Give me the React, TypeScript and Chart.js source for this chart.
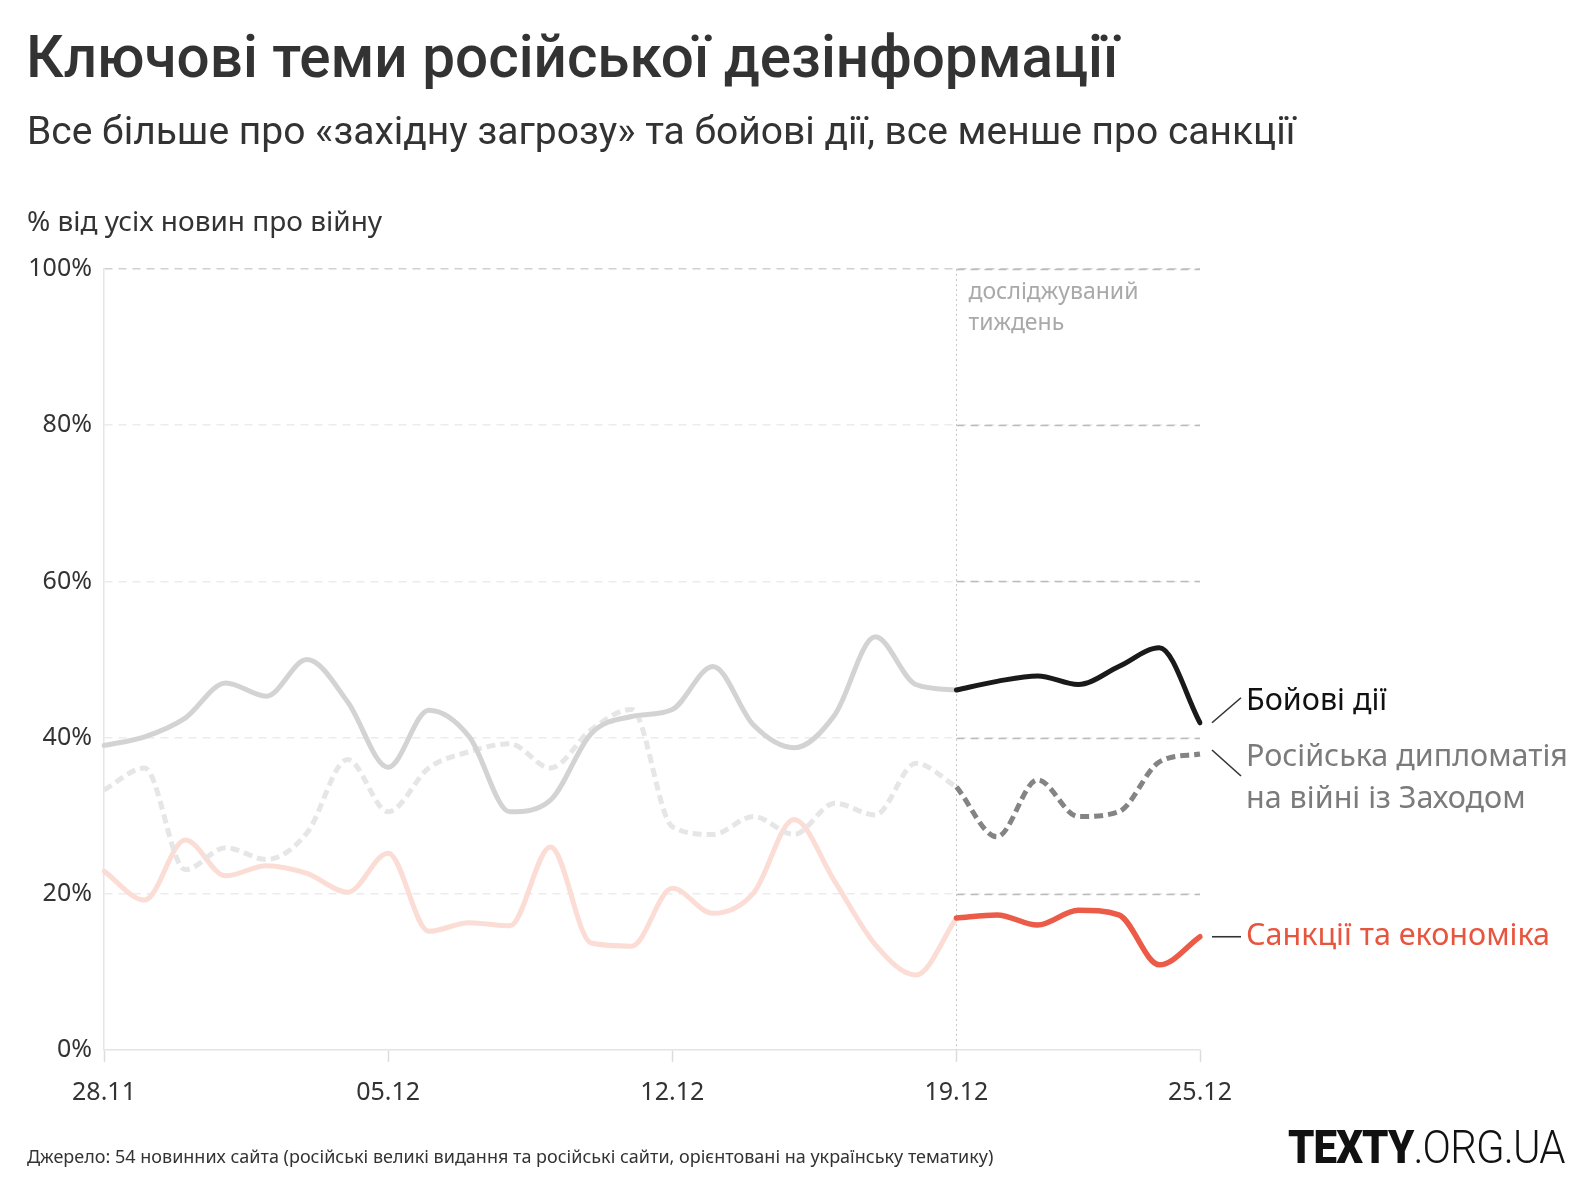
import React, { useEffect, useRef } from 'react';
import { Chart, registerables } from 'chart.js';

Chart.register(...registerables);

// ---------- data ----------
const dates = [
  '28.11', '29.11', '30.11', '01.12', '02.12', '03.12', '04.12', '05.12', '06.12', '07.12',
  '08.12', '09.12', '10.12', '11.12', '12.12', '13.12', '14.12', '15.12', '16.12', '17.12',
  '18.12', '19.12', '20.12', '21.12', '22.12', '23.12', '24.12', '25.12',
];
const shownDates = ['28.11', '05.12', '12.12', '19.12', '25.12'];
const studyStart = '19.12';
const yTickValues = [0, 20, 40, 60, 80, 100];

const combat = [
  39.0, 40.1, 42.5, 47.0, 45.3, 50.0, 44.6, 36.2, 43.5, 40.1,
  30.5, 32.0, 40.5, 42.7, 43.6, 49.1, 41.6, 38.7, 42.9, 52.9,
  46.8, 46.1, 47.2, 47.9, 46.8, 49.1, 51.5, 41.9,
];
const diplomacy = [
  33.3, 36.1, 23.1, 25.9, 24.4, 27.8, 37.2, 30.5, 36.1, 38.2,
  39.2, 36.1, 41.0, 43.6, 28.6, 27.6, 29.9, 27.6, 31.6, 30.1,
  36.7, 33.7, 27.3, 34.6, 29.9, 30.5, 36.9, 37.9,
];
const sanctions = [
  22.9, 19.2, 26.9, 22.3, 23.6, 22.6, 20.2, 25.2, 15.2, 16.3,
  15.9, 26.0, 13.7, 13.3, 20.7, 17.5, 20.1, 29.5, 21.6, 13.5,
  9.6, 16.9, 17.3, 16.0, 17.9, 17.3, 10.9, 14.5,
];

const seriesNames = {
  combat: 'Бойові дії',
  diplomacy1: 'Російська дипломатія',
  diplomacy2: 'на війні із Заходом',
  sanctions: 'Санкції та економіка',
};

const TITLE = 'Ключові теми російської дезінформації';
const SUBTITLE = 'Все більше про «західну загрозу» та бойові дії, все менше про санкції';
const Y_LABEL = '% від усіх новин про війну';
const SOURCE = 'Джерело: 54 новинних сайта (російські великі видання та російські сайти, орієнтовані на українську тематику)';
const STUDY_LABEL = ['досліджуваний', 'тиждень'];

const SANS = '"Noto Sans", "DejaVu Sans", sans-serif';

const splitIdx = dates.indexOf(studyStart);
const before = (arr: number[]) => arr.map((v, i) => (i <= splitIdx ? v : null));
const after = (arr: number[]) => arr.map((v, i) => (i >= splitIdx ? v : null));

const decorPlugin = {
  id: 'decor',
  beforeDatasetsDraw(chart: any) {
    const { ctx, chartArea, scales } = chart;
    const x = scales.x;
    const y = scales.y;
    const xs = x.getPixelForValue(splitIdx);
    ctx.save();
    // darker dashed grid inside studied week
    ctx.setLineDash([8, 6]);
    ctx.strokeStyle = '#bcbcbc';
    ctx.lineWidth = 1.5;
    yTickValues.filter((v) => v > 0).forEach((v) => {
      const py = Math.round(y.getPixelForValue(v)) + 0.5;
      ctx.beginPath();
      ctx.moveTo(xs, py);
      ctx.lineTo(chartArea.right, py);
      ctx.stroke();
    });
    // dotted vertical marker
    ctx.setLineDash([2, 3]);
    ctx.strokeStyle = '#c8c8c8';
    ctx.lineWidth = 1;
    ctx.beginPath();
    ctx.moveTo(Math.round(xs) + 0.5, chartArea.top);
    ctx.lineTo(Math.round(xs) + 0.5, chartArea.bottom);
    ctx.stroke();
    ctx.setLineDash([]);
    ctx.fillStyle = '#a9a9a9';
    ctx.font = `23px ${SANS}`;
    ctx.textBaseline = 'middle';
    ctx.textAlign = 'left';
    ctx.fillText(STUDY_LABEL[0], xs + 12, chartArea.top + 23);
    ctx.fillText(STUDY_LABEL[1], xs + 12, chartArea.top + 54);
    ctx.restore();
  },
  afterDatasetsDraw(chart: any) {
    const { ctx, chartArea, scales } = chart;
    const y = scales.y;
    const last = dates.length - 1;
    const x0 = chartArea.right + 12;
    const x1 = chartArea.right + 41;
    const tx = chartArea.right + 46;
    ctx.save();
    ctx.lineWidth = 1.6;
    ctx.textBaseline = 'middle';
    ctx.textAlign = 'left';
    ctx.font = `30.5px ${SANS}`;

    const yC = y.getPixelForValue(combat[last]);
    ctx.strokeStyle = '#333';
    ctx.beginPath();
    ctx.moveTo(x0, yC);
    ctx.lineTo(x1, yC - 25);
    ctx.stroke();
    ctx.fillStyle = '#111';
    ctx.fillText(seriesNames.combat, tx, yC - 21);

    const yD = y.getPixelForValue(diplomacy[last]);
    ctx.strokeStyle = '#333';
    ctx.beginPath();
    ctx.moveTo(x0, yD - 4);
    ctx.lineTo(x1, yD + 22);
    ctx.stroke();
    ctx.fillStyle = '#7b7b7b';
    ctx.fillText(seriesNames.diplomacy1, tx, yD + 3);
    ctx.fillText(seriesNames.diplomacy2, tx, yD + 45);

    const yS = y.getPixelForValue(sanctions[last]);
    ctx.strokeStyle = '#333';
    ctx.beginPath();
    ctx.moveTo(x0, yS);
    ctx.lineTo(x1, yS);
    ctx.stroke();
    ctx.fillStyle = '#e8553f';
    ctx.fillText(seriesNames.sanctions, tx, yS);
    ctx.restore();
  },
};

export default function App() {
  const canvasRef = useRef<HTMLCanvasElement | null>(null);

  useEffect(() => {
    const canvas = canvasRef.current;
    if (!canvas) return;
    const common = {
      pointRadius: 0,
      pointHoverRadius: 0,
      cubicInterpolationMode: 'monotone' as const,
      spanGaps: false,
      fill: false,
    };
    const chart = new Chart(canvas, {
      type: 'line',
      data: {
        labels: dates,
        datasets: [
          { ...common, label: seriesNames.combat, data: after(combat), borderColor: '#1a1a1a', borderWidth: 5, borderCapStyle: 'round', order: 0 },
          { ...common, label: seriesNames.diplomacy1, data: after(diplomacy), borderColor: '#848484', borderWidth: 5, borderDash: [9, 5], borderCapStyle: 'butt', order: 1 },
          { ...common, label: seriesNames.sanctions, data: after(sanctions), borderColor: '#ec5b47', borderWidth: 5.5, borderCapStyle: 'round', order: 2 },
          { ...common, label: seriesNames.combat + ' (до)', data: before(combat), borderColor: '#d3d3d3', borderWidth: 5, borderCapStyle: 'round', order: 3 },
          { ...common, label: seriesNames.diplomacy1 + ' (до)', data: before(diplomacy), borderColor: '#e6e6e6', borderWidth: 5, borderDash: [9, 5], borderCapStyle: 'butt', order: 4 },
          { ...common, label: seriesNames.sanctions + ' (до)', data: before(sanctions), borderColor: '#fbddd6', borderWidth: 5, borderCapStyle: 'round', order: 5 },
        ] as any,
      },
      options: {
        animation: false,
        responsive: false,
        devicePixelRatio: 1,
        events: [],
        layout: { padding: { left: 0, top: 269, right: 388, bottom: 86 } },
        plugins: {
          legend: { display: false },
          tooltip: { enabled: false },
          title: { display: false },
        },
        scales: {
          x: {
            type: 'category',
            offset: false,
            grid: {
              drawOnChartArea: false,
              drawTicks: true,
              tickLength: 12,
              tickWidth: 1.5,
              tickColor: (ctx: any) =>
                shownDates.includes(dates[ctx.index]) ? '#dcdcdc' : 'rgba(0,0,0,0)',
            },
            border: { display: true, color: '#e4e4e4', width: 1.5 },
            ticks: {
              autoSkip: false,
              maxRotation: 0,
              minRotation: 0,
              padding: 16,
              color: '#333',
              font: { size: 25, family: SANS },
              callback: (_v: any, i: number) => (shownDates.includes(dates[i]) ? dates[i] : ''),
            },
            afterFit: (s: any) => {
              s.height = 60;
            },
          },
          y: {
            min: 0,
            max: 100,
            afterBuildTicks: (s: any) => {
              s.ticks = yTickValues.map((v) => ({ value: v }));
            },
            ticks: {
              padding: 12,
              color: '#333',
              font: { size: 25, family: SANS },
              callback: (v: any) => `${v}%`,
            },
            grid: {
              drawTicks: false,
              lineWidth: 1.5,
              color: (ctx: any) =>
                ctx.tick && ctx.tick.value === 0
                  ? 'rgba(0,0,0,0)'
                  : ctx.tick && ctx.tick.value === 100
                  ? '#d0d0d0'
                  : '#ececec',
            },
            border: { display: true, color: '#e6e6e6', width: 1.5, dash: [8, 6] },
            afterFit: (s: any) => {
              s.width = 104;
            },
          },
        },
      } as any,
      plugins: [decorPlugin],
    });
    return () => chart.destroy();
  }, []);

  return (
    <div
      style={{
        position: 'absolute',
        left: 0,
        top: 0,
        width: 1588,
        height: 1196,
        background: '#fff',
        overflow: 'hidden',
      }}
    >
      <canvas
        ref={canvasRef}
        width={1588}
        height={1196}
        style={{ position: 'absolute', left: 0, top: 0, width: 1588, height: 1196 }}
      />
      <div
        style={{
          position: 'absolute',
          left: 26,
          top: 27,
          fontFamily: 'Roboto, sans-serif',
          fontWeight: 500,
          fontSize: 58.4,
          lineHeight: '60px',
          color: '#333',
          whiteSpace: 'nowrap',
        }}
      >
        {TITLE}
      </div>
      <div
        style={{
          position: 'absolute',
          left: 27,
          top: 110,
          fontFamily: 'Roboto, sans-serif',
          fontWeight: 400,
          fontSize: 39,
          lineHeight: '42px',
          color: '#333',
          whiteSpace: 'nowrap',
        }}
      >
        {SUBTITLE}
      </div>
      <div
        style={{
          position: 'absolute',
          left: 27,
          top: 203,
          fontFamily: SANS,
          fontSize: 28,
          lineHeight: '34px',
          color: '#333',
          whiteSpace: 'nowrap',
        }}
      >
        {Y_LABEL}
      </div>
      <div
        style={{
          position: 'absolute',
          left: 27,
          top: 1144,
          fontFamily: SANS,
          fontSize: 18,
          lineHeight: '24px',
          color: '#333',
          whiteSpace: 'nowrap',
        }}
      >
        {SOURCE}
      </div>
      <div
        style={{
          position: 'absolute',
          left: 1288,
          top: 1121,
          fontFamily: 'Roboto, sans-serif',
          fontSize: 47,
          lineHeight: '52px',
          color: '#111',
          whiteSpace: 'nowrap',
          transform: 'scaleX(0.893)',
          transformOrigin: 'left center',
          letterSpacing: -1,
        }}
      >
        <span style={{ fontWeight: 900 }}>TEXTY</span>
        <span style={{ fontWeight: 300 }}>.ORG.UA</span>
      </div>
    </div>
  );
}
